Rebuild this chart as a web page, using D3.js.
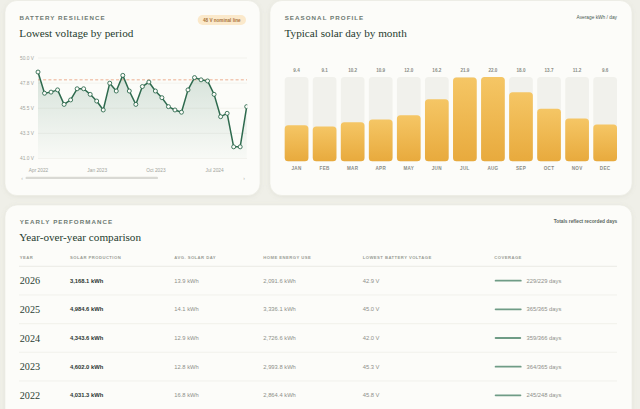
<!DOCTYPE html>
<html><head><meta charset="utf-8">
<script src="https://cdn.jsdelivr.net/npm/d3@7"></script>
<style>
html,body{margin:0;padding:0;background:#efefe8;}
svg{display:block;}
text{font-family:"Liberation Sans",Arial,sans-serif;}
.serif{font-family:"Liberation Serif","DejaVu Serif",serif;}
</style></head>
<body>
<svg id="c" width="640" height="409"></svg>
<script>
// ---- Battery resilience (monthly lowest voltage) ----
const periods = ["2022-04","2022-05","2022-06","2022-07","2022-08","2022-09","2022-10","2022-11","2022-12",
  "2023-01","2023-02","2023-03","2023-04","2023-05","2023-06","2023-07","2023-08","2023-09","2023-10","2023-11","2023-12",
  "2024-01","2024-02","2024-03","2024-04","2024-05","2024-06","2024-07","2024-08","2024-09","2024-10","2024-11","2024-12"];
const lowestVoltage = [48.7,46.8,46.9,47.1,45.8,46.2,47.2,47.2,46.7,
  46.1,45.3,47.7,47.0,48.4,47.0,45.8,47.4,47.8,47.0,46.4,45.6,
  45.3,45.1,47.1,48.2,48.0,47.9,46.7,44.7,45.0,42.0,42.0,45.6];
const voltTicks = [41.0,43.25,45.5,47.75,50.0];
const xTickPeriods = ["2022-04","2023-01","2023-10","2024-07"];
const xTickLabels = ["Apr 2022","Jan 2023","Oct 2023","Jul 2024"];
const nominalVoltage = 48;

// ---- Seasonal profile ----
const monthNames = ["JAN","FEB","MAR","APR","MAY","JUN","JUL","AUG","SEP","OCT","NOV","DEC"];
const avgSolarDay = [9.4,9.1,10.2,10.9,12.0,16.2,21.9,22.0,18.0,13.7,11.2,9.6];

// ---- Yearly performance ----
const years = [2026,2025,2024,2023,2022];
const solarProduction = [3168.1,4984.6,4343.6,4602.0,4031.3];
const avgSolar = [13.9,14.1,12.9,12.8,16.8];
const homeUse = [2091.6,3336.1,2726.6,2993.8,2864.4];
const yearLowestV = [42.9,45.0,42.0,45.3,45.8];
const recordedDays = [229,365,359,364,245];
const totalDays = [229,365,366,365,248];
const columns = ["YEAR","SOLAR PRODUCTION","AVG. SOLAR DAY","HOME ENERGY USE","LOWEST BATTERY VOLTAGE","COVERAGE"];

const svg = d3.select("#c");
const defs = svg.append("defs");
const sh = defs.append("filter").attr("id","sh").attr("x","-10%").attr("y","-10%").attr("width","120%").attr("height","130%");
sh.append("feDropShadow").attr("dx",0).attr("dy",1).attr("stdDeviation",2).attr("flood-color","#8a8a70").attr("flood-opacity",0.12);

const ag = defs.append("linearGradient").attr("id","ag").attr("x1",0).attr("x2",0).attr("y1",0).attr("y2",1);
ag.append("stop").attr("offset","0%").attr("stop-color","#3c7a5c").attr("stop-opacity",0.2);
ag.append("stop").attr("offset","100%").attr("stop-color","#3c7a5c").attr("stop-opacity",0.02);
const bg = defs.append("linearGradient").attr("id","bg").attr("x1",0).attr("x2",0).attr("y1",0).attr("y2",1);
bg.append("stop").attr("offset","0%").attr("stop-color","#f5c665");
bg.append("stop").attr("offset","100%").attr("stop-color","#e8aa3d");
defs.append("clipPath").attr("id","pc").append("rect").attr("x",20).attr("y",40).attr("width",227.3).attr("height",125);

// cards
function card(x,y,w,h){svg.append("rect").attr("x",x).attr("y",y).attr("width",w).attr("height",h).attr("rx",12)
  .attr("fill","#fcfcf9").attr("stroke","#e9e9e1").attr("stroke-width",0.6).attr("filter","url(#sh)");}
card(5,0.5,255,195);
card(270,0.5,362,195);
card(5,205,627,230);

function overline(x,y,t){svg.append("text").attr("x",x).attr("y",y).text(t).attr("font-size",6.2).attr("font-weight",700)
  .attr("letter-spacing",1.05).attr("fill","#6d7a72");}
function title(x,y,t){svg.append("text").attr("class","serif").attr("x",x).attr("y",y).text(t).attr("font-size",11.2).attr("fill","#1f3b2f");}

// ===== Card 1 =====
overline(19.5,20,"BATTERY RESILIENCE");
title(19.3,36.6,"Lowest voltage by period");
svg.append("rect").attr("x",197.7).attr("y",15).attr("width",48.3).attr("height",10).attr("rx",5).attr("fill","#fbe9cb");
svg.append("text").attr("x",221.8).attr("y",21.7).attr("text-anchor","middle").text("48 V nominal line")
  .attr("font-size",4.6).attr("font-weight",700).attr("fill","#a8733a");

const x1 = d3.scalePoint().domain(periods).range([38,246.7]);
const y1 = d3.scaleLinear().domain([41,50]).range([158,57.5]);

const yAx = svg.append("g").attr("transform","translate(38,0)")
  .call(d3.axisLeft(y1).tickValues(voltTicks).tickSize(-209).tickFormat(d=>d.toFixed(1)+" V"));
yAx.select(".domain").remove();
yAx.selectAll(".tick line").attr("stroke","#eeeee8").attr("stroke-width",0.7);
yAx.selectAll(".tick text").attr("x",-18).attr("text-anchor","start").attr("font-size",4.8).attr("fill","#a2a49c").attr("font-family",null);

const xAx = svg.append("g").attr("transform","translate(0,158)")
  .call(d3.axisBottom(x1).tickValues(xTickPeriods).tickSize(0).tickFormat((d,i)=>xTickLabels[xTickPeriods.indexOf(d)]));
xAx.select(".domain").remove();
xAx.selectAll(".tick text").attr("dy",0).attr("y",14).attr("font-size",4.8).attr("fill","#a2a49c").attr("font-family",null);

const plot = svg.append("g").attr("clip-path","url(#pc)");
const pts = periods.map((p,i)=>({p,v:lowestVoltage[i]}));
plot.append("path").datum(pts).attr("d",d3.area().x(d=>x1(d.p)).y0(y1(41)).y1(d=>y1(d.v))).attr("fill","url(#ag)");
plot.append("line").attr("x1",38).attr("x2",247).attr("y1",y1(nominalVoltage)).attr("y2",y1(nominalVoltage))
  .attr("stroke","#eaa585").attr("stroke-width",0.9).attr("stroke-dasharray","3,2.2");
plot.append("path").datum(pts).attr("d",d3.line().x(d=>x1(d.p)).y(d=>y1(d.v))).attr("fill","none")
  .attr("stroke","#2e6a4e").attr("stroke-width",1.5).attr("stroke-linejoin","round");
plot.selectAll("circle").data(pts).join("circle").attr("cx",d=>x1(d.p)).attr("cy",d=>y1(d.v)).attr("r",2)
  .attr("fill","#fdfdfa").attr("stroke","#2e6a4e").attr("stroke-width",0.9);

// scroll slider
svg.append("rect").attr("x",25.5).attr("y",176.7).attr("width",132.5).attr("height",2.4).attr("rx",1.2).attr("fill","#d9d9d4");
svg.append("text").attr("x",22).attr("y",179.6).text("‹").attr("font-size",5).attr("fill","#b0b0aa").attr("text-anchor","middle");
svg.append("text").attr("x",244).attr("y",179.6).text("›").attr("font-size",5).attr("fill","#b0b0aa").attr("text-anchor","middle");

// ===== Card 2 =====
overline(284.7,20,"SEASONAL PROFILE");
title(284.5,36.6,"Typical solar day by month");
svg.append("text").attr("x",617).attr("y",19.3).attr("text-anchor","end").text("Average kWh / day")
  .attr("font-size",4.8).attr("fill","#4a5a52");

const xb = d3.scaleBand().domain(monthNames).range([284.7,617]).paddingInner(0.155);
const yb = d3.scaleLinear().domain([0,d3.max(avgSolarDay)]).range([161.3,77]);
const bars = svg.append("g");
const bd = monthNames.map((m,i)=>({m,v:avgSolarDay[i]}));
bars.selectAll("rect.t").data(bd).join("rect").attr("class","t").attr("x",d=>xb(d.m)).attr("y",yb.range()[1])
  .attr("width",xb.bandwidth()).attr("height",yb(0)-yb.range()[1]).attr("rx",3.5).attr("fill","#f1f1ec");
bars.selectAll("rect.b").data(bd).join("rect").attr("class","b").attr("x",d=>xb(d.m)).attr("y",d=>yb(d.v))
  .attr("width",xb.bandwidth()).attr("height",d=>yb(0)-yb(d.v)).attr("rx",3.5).attr("fill","url(#bg)");
bars.selectAll("text.v").data(bd).join("text").attr("class","v").attr("x",d=>xb(d.m)+xb.bandwidth()/2).attr("y",72.2)
  .attr("text-anchor","middle").text(d=>d.v.toFixed(1)).attr("font-size",4.6).attr("font-weight",700).attr("fill","#8a8c86");
bars.selectAll("text.m").data(bd).join("text").attr("class","m").attr("x",d=>xb(d.m)+xb.bandwidth()/2).attr("y",169.6)
  .attr("text-anchor","middle").text(d=>d.m).attr("font-size",4.6).attr("font-weight",700).attr("fill","#8a8c86").attr("letter-spacing",0.3);

// ===== Card 3 =====
overline(19.7,224,"YEARLY PERFORMANCE");
title(19.3,240.8,"Year-over-year comparison");
svg.append("text").attr("x",617.3).attr("y",223).attr("text-anchor","end").text("Totals reflect recorded days")
  .attr("font-size",4.8).attr("font-weight",700).attr("fill","#5a6660");

const colX = [19.7,70,174.3,263.3,362.7,494.3];
svg.selectAll("text.h").data(columns).join("text").attr("class","h").attr("x",(d,i)=>colX[i]).attr("y",259)
  .text(d=>d).attr("font-size",4.2).attr("font-weight",700).attr("letter-spacing",0.45).attr("fill","#9a9c96");
svg.append("line").attr("x1",19).attr("x2",617).attr("y1",266.3).attr("y2",266.3).attr("stroke","#e6e6df").attr("stroke-width",0.8);

const yr = d3.scaleBand().domain(years).range([266.3,266.3+5*28.67]);
const rows = years.map((y,i)=>({y,s:solarProduction[i],a:avgSolar[i],h:homeUse[i],l:yearLowestV[i],r:recordedDays[i],t:totalDays[i]}));
const cov = d3.scaleLinear().domain([0,1]).range([0,27]);
const fmt = d3.format(",.1f");
const rg = svg.selectAll("g.row").data(rows).join("g").attr("class","row")
  .attr("transform",d=>`translate(0,${yr(d.y)+yr.bandwidth()/2})`);
rg.filter((d,i)=>i<rows.length-1).append("line").attr("x1",19).attr("x2",617).attr("y1",yr.bandwidth()/2).attr("y2",yr.bandwidth()/2)
  .attr("stroke","#efefe9").attr("stroke-width",0.8);
rg.append("text").attr("class","serif").attr("x",colX[0]).attr("y",3.6).text(d=>d.y).attr("font-size",10.2).attr("fill","#2b3f35");
rg.append("text").attr("x",colX[1]).attr("y",2.1).text(d=>fmt(d.s)+" kWh").attr("font-size",5.8).attr("font-weight",700).attr("fill","#2a3530");
rg.append("text").attr("x",colX[2]).attr("y",2.1).text(d=>fmt(d.a)+" kWh").attr("font-size",5.8).attr("fill","#8e908a");
rg.append("text").attr("x",colX[3]).attr("y",2.1).text(d=>fmt(d.h)+" kWh").attr("font-size",5.8).attr("fill","#8e908a");
rg.append("text").attr("x",colX[4]).attr("y",2.1).text(d=>d.l.toFixed(1)+" V").attr("font-size",5.8).attr("fill","#8e908a");
rg.append("rect").attr("x",494.7).attr("y",-0.9).attr("width",d=>cov(d.r/d.t)).attr("height",1.8).attr("rx",0.9).attr("fill","#6f9c86");
rg.append("text").attr("x",526.5).attr("y",2.1).text(d=>d.r+"/"+d.t+" days").attr("font-size",5.8).attr("fill","#8e908a");
</script>
</body></html>
